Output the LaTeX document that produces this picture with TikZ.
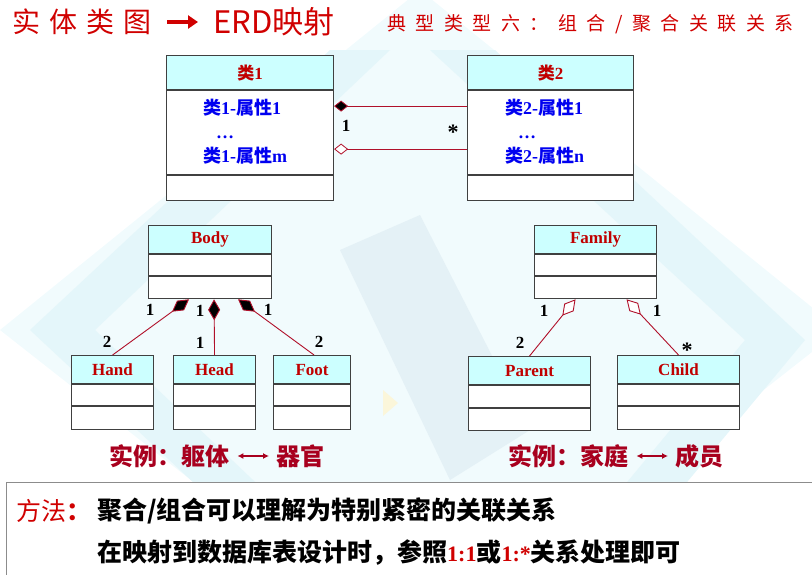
\documentclass[tikz,border=0pt]{standalone}
\usepackage{fontspec}
\setmainfont{Liberation Serif}
\newfontfamily\zhfont{Noto Sans CJK SC}
\usetikzlibrary{arrows.meta,calc}

\definecolor{titlered}{HTML}{D00000}
\definecolor{namered}{HTML}{C00000}
\definecolor{attrblue}{HTML}{0000F0}
\definecolor{hdrcyan}{HTML}{CCFFFF}
\definecolor{linkred}{HTML}{B0102A}
\definecolor{darkred}{HTML}{A8001E}
\definecolor{framegray}{HTML}{404040}
\definecolor{panelgray}{HTML}{8C8C8C}
\definecolor{bgA}{HTML}{F1FBFD}
\definecolor{bgB}{HTML}{E4F6FA}
\definecolor{bgC}{HTML}{E4F1F6}
\definecolor{bgY}{HTML}{FBF6DA}

\newcommand\zh[1]{{\zhfont #1}}

% a UML class: name, x, y, width, header height, row heights, title
\newcommand\umlclass[8]{%
  \node[hdr, minimum width=#4, minimum height=#5] (#1) at (#2,#3) {#8};
  \node[cell, minimum width=#4, minimum height=#6] (#1-a) at (#1.south west) {};
  \node[cell, minimum width=#4, minimum height=#7] (#1-b) at (#1-a.south west) {};
}

\tikzset{
  hdr/.style={draw=framegray, line width=1.1pt, fill=hdrcyan, inner sep=0pt,
    anchor=north west, text=namered, font=\bfseries\fontsize{17}{17}\selectfont},
  cell/.style={draw=framegray, line width=1.1pt, fill=white, inner sep=0pt,
    anchor=north west},
  attr/.style={anchor=west, inner sep=0pt, text=attrblue,
    font=\bfseries\fontsize{18}{18}\selectfont},
  mult/.style={inner sep=0pt, font=\bfseries\fontsize{17}{17}\selectfont},
  comp/.style={draw=linkred, line width=0.9pt,
    {Diamond[length=21pt,width=12pt,fill=black]}-},
  aggr/.style={draw=linkred, line width=0.9pt,
    {Diamond[length=21pt,width=12pt,fill=white]}-},
  ex/.style={anchor=west, inner sep=0pt, text=darkred,
    font=\zhfont\bfseries\fontsize{24}{24}\selectfont},
  exarrow/.style={draw=darkred, line width=1.4pt,
    {Latex[length=6pt,width=6pt]}-{Latex[length=6pt,width=6pt]}},
}

\begin{document}
\begin{tikzpicture}[x=1pt,y=-1pt]
\useasboundingbox (0,0) rectangle (812,574);

% faint backdrop
\fill[bgA] (0,330) -- (420,-10) -- (840,330) -- (420,660) -- cycle;
\fill[bgB] (30,330) -- (330,50) -- (390,50) -- (95,330) -- (390,610) -- (330,610) -- cycle;
\fill[bgB] (430,50) -- (495,50) -- (805,340) -- (610,575) -- (550,575) -- (745,340) -- cycle;
\fill[bgC] (340,250) -- (420,215) -- (530,430) -- (450,480) -- cycle;
\fill[bgY] (383,390) -- (398,403) -- (383,416) -- cycle;
\fill[bgY] (726,364) -- (740,378) -- (726,392) -- cycle;

% heading
\node[anchor=west, inner sep=0pt, text=titlered, font=\zhfont\fontsize{28}{28}\selectfont]
  (t1) at (12,22) {实\kern9pt 体\kern9pt 类\kern9pt 图};
\node[anchor=west, inner sep=0pt, text=titlered, font=\zhfont\fontsize{31}{31}\selectfont]
  (t2) at (213,22) {ERD映射};
\draw[titlered, line width=4pt, -{Triangle[length=10pt,width=13pt]}]
  ($(t1.east)+(16,0)$) -- ($(t2.west)+(-15,0)$);
\node[anchor=west, inner sep=0pt, text=titlered, font=\zhfont\fontsize{19}{19}\selectfont]
  (t3) at (387,24) {典\kern9.5pt 型\kern9.5pt 类\kern9.5pt 型\kern9.5pt 六\kern9.5pt ：\kern9.5pt 组\kern9.5pt 合\kern9.5pt /\kern9.5pt 聚\kern9.5pt 合\kern9.5pt 关\kern9.5pt 联\kern9.5pt 关\kern9.5pt 系};

% generic classes
\umlclass{c1}{166}{55}{167}{34}{84}{25}{\zh{类}1}
\umlclass{c2}{467}{55}{166}{34}{84}{25}{\zh{类}2}
\node[attr] (c1x1) at (203,108) {\zh{类}1-\zh{属性}1};
\node[attr, anchor=base west] (c1xd) at (216,138) {…};
\node[attr] (c1xm) at (203,156) {\zh{类}1-\zh{属性}m};
\node[attr] (c2x1) at (505,108) {\zh{类}2-\zh{属性}1};
\node[attr, anchor=base west] (c2xd) at (518,138) {…};
\node[attr] (c2xn) at (505,156) {\zh{类}2-\zh{属性}n};

\draw[draw=linkred, line width=0.8pt, {Diamond[length=14pt,width=11pt,fill=black]}-]
  ($(c1-a.north east)+(0,16)$) coordinate (ka) -- (ka -| c2-a.west);
\draw[draw=linkred, line width=0.8pt, {Diamond[length=14pt,width=11pt,fill=white]}-]
  ($(c1-a.north east)+(0,59)$) coordinate (kb) -- (kb -| c2-a.west);
\node[mult] (k1) at (346,126) {1};
\node[mult, font=\bfseries\fontsize{22}{22}\selectfont] (k2) at (453,132) {*};

% composition example
\umlclass{body}{148}{225}{123}{28}{21}{22}{Body}
\umlclass{hand}{71}{355}{82}{28}{21}{23}{Hand}
\umlclass{head}{173}{355}{82}{28}{21}{23}{Head}
\umlclass{foot}{273}{355}{77}{28}{21}{23}{Foot}
\draw[comp] ($(body-b.south)+(-21,0)$) -- (hand.north);
\draw[comp] ($(body-b.south)+(4,0)$) -- (head.north);
\draw[comp] ($(body-b.south)+(28,0)$) -- ($(foot.north)+(2,0)$);
\node[mult] (b1) at (150,310) {1};
\node[mult] (b2) at (107,342) {2};
\node[mult] (b3) at (200,311) {1};
\node[mult] (b4) at (200,343) {1};
\node[mult] (b5) at (268,310) {1};
\node[mult] (b6) at (319,342) {2};

% aggregation example
\umlclass{fam}{534}{225}{122}{28}{21}{22}{Family}
\umlclass{par}{468}{356}{122}{28}{22}{22}{Parent}
\umlclass{chi}{617}{355}{122}{28}{21}{23}{Child}
\draw[aggr] ($(fam-b.south)+(-20,0)$) -- (par.north);
\draw[aggr] ($(fam-b.south)+(31,0)$) -- (chi.north);
\node[mult] (f1) at (544,311) {1};
\node[mult] (f2) at (520,343) {2};
\node[mult] (f3) at (657,311) {1};
\node[mult, font=\bfseries\fontsize{22}{22}\selectfont] (f4) at (687,350) {*};

% example captions
\node[ex] (e1a) at (109,456) {实例：躯体};
\node[ex] (e1b) at (276,456) {器官};
\draw[exarrow] ($(e1a.east)+(8,0)$) -- ($(e1b.west)+(-7,0)$);
\node[ex] (e2a) at (508,456) {实例：家庭};
\node[ex] (e2b) at (675,456) {成员};
\draw[exarrow] ($(e2a.east)+(8,0)$) -- ($(e2b.west)+(-7,0)$);

% method panel
\node[draw=panelgray, line width=1pt, fill=white, anchor=north west, minimum width=830,
  minimum height=120, inner sep=0pt] (panel) at (6,482) {};
\node[anchor=west, inner sep=0pt, text=titlered, font=\zhfont\fontsize{25}{25}\selectfont]
  (m0) at (16,511) {方法{\bfseries ：}};
\node[anchor=west, inner sep=0pt, font=\zhfont\bfseries\fontsize{25}{25}\selectfont]
  (m1) at (97,511) {聚合/组合可以理解为特别紧密的关联关系};
\node[anchor=west, inner sep=0pt, font=\zhfont\bfseries\fontsize{25}{25}\selectfont]
  (m2) at (97,553) {在映射到数据库表设计时，参照{\rmfamily\fontsize{22}{22}\selectfont\color{titlered}1:1}或{\rmfamily\fontsize{22}{22}\selectfont\color{titlered}1:*}关系处理即可};
\end{tikzpicture}
\end{document}
